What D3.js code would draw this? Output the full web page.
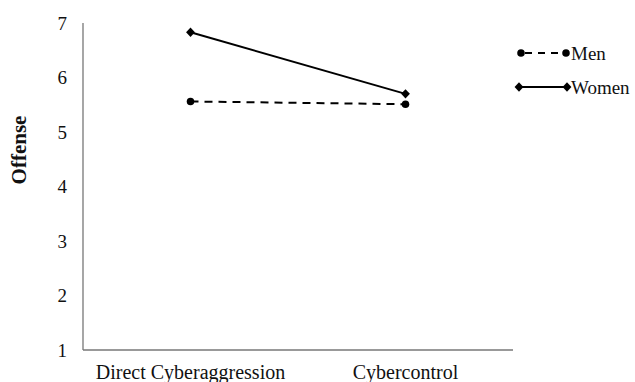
<!DOCTYPE html>
<html><head><meta charset="utf-8">
<script src="https://cdn.jsdelivr.net/npm/d3@7/dist/d3.min.js"></script>
<style>
body{margin:0;background:#fff}
svg{display:block}
svg text{font-family:"Liberation Serif" !important;}
</style>
</head><body>
<script>
const categories = ["Direct Cyberaggression", "Cybercontrol"];
const menValues = [5.56, 5.51];
const womenValues = [6.83, 5.70];
const yTicks = [1, 2, 3, 4, 5, 6, 7];
const seriesNames = ["Men", "Women"];

const fontOf = () => '"Liberation Serif"';
const W = 635, H = 382;
const svg = d3.select("body").append("svg").attr("width", W).attr("height", H);
const x = d3.scaleBand().domain(categories).range([83, 513]);
const y = d3.scaleLinear().domain([1, 7]).range([350, 23]);

svg.append("line").attr("x1", 83).attr("x2", 83).attr("y1", y(7)).attr("y2", y(1)).attr("stroke", "#777").attr("stroke-width", 1.3);
svg.append("line").attr("x1", 83).attr("x2", 513).attr("y1", y(1)).attr("y2", y(1)).attr("stroke", "#777").attr("stroke-width", 1.3);

svg.selectAll(".yt").data(yTicks).enter().append("text")
  .attr("x", 67).attr("y", d => y(d)).attr("dy", "0.35em").attr("text-anchor", "end")
  .attr("fill", "#111").style("font-family", fontOf).style("font-size", "19px").text(d => d);

svg.selectAll(".xt").data(categories).enter().append("text")
  .attr("x", d => x(d) + x.bandwidth() / 2).attr("y", 379).attr("text-anchor", "middle")
  .attr("fill", "#111").style("font-family", fontOf).style("font-size", "20px").text(d => d);

svg.append("text").attr("transform", "translate(26,150) rotate(-90)").attr("text-anchor", "middle")
  .attr("fill", "#111").style("font-family", fontOf).style("font-size", "21px").style("font-weight", "bold").text("Offense");

const cx = d => x(d) + x.bandwidth() / 2;
const line = d3.line().x(d => cx(d.c)).y(d => y(d.v));
const men = categories.map((c, i) => ({c, v: menValues[i]}));
const women = categories.map((c, i) => ({c, v: womenValues[i]}));

svg.append("path").datum(men).attr("d", line).attr("fill", "none").attr("stroke", "#000").attr("stroke-width", 2).attr("stroke-dasharray", "8,6");
svg.append("path").datum(women).attr("d", line).attr("fill", "none").attr("stroke", "#000").attr("stroke-width", 2);

const circ = d3.symbol().type(d3.symbolCircle).size(45);
const diam = d3.symbol().type(d3.symbolDiamond).size(40);
svg.selectAll(".mp").data(men).enter().append("path").attr("d", circ)
  .attr("transform", d => `translate(${cx(d.c)},${y(d.v)})`).attr("fill", "#000");
svg.selectAll(".wp").data(women).enter().append("path").attr("d", diam)
  .attr("transform", d => `translate(${cx(d.c)},${y(d.v)}) scale(1.3,0.8)`).attr("fill", "#000");

const lg = svg.append("g");
const ly = [53, 87];
lg.append("line").attr("x1", 521).attr("x2", 566).attr("y1", ly[0]).attr("y2", ly[0]).attr("stroke", "#000").attr("stroke-width", 2).attr("stroke-dasharray", "7,6").attr("stroke-dashoffset", -4);
lg.append("line").attr("x1", 519).attr("x2", 567).attr("y1", ly[1]).attr("y2", ly[1]).attr("stroke", "#000").attr("stroke-width", 2);
[521, 566].forEach(px => lg.append("path").attr("d", circ).attr("transform", `translate(${px},${ly[0]})`).attr("fill", "#000"));
[519, 567].forEach(px => lg.append("path").attr("d", diam).attr("transform", `translate(${px},${ly[1]}) scale(1.3,0.8)`).attr("fill", "#000"));
lg.selectAll(".lt").data(seriesNames).enter().append("text")
  .attr("x", 571).attr("y", (d, i) => ly[i]).attr("dy", "0.35em")
  .attr("fill", "#111").style("font-family", fontOf).style("font-size", "19px").text(d => d);
</script>
</body></html>
